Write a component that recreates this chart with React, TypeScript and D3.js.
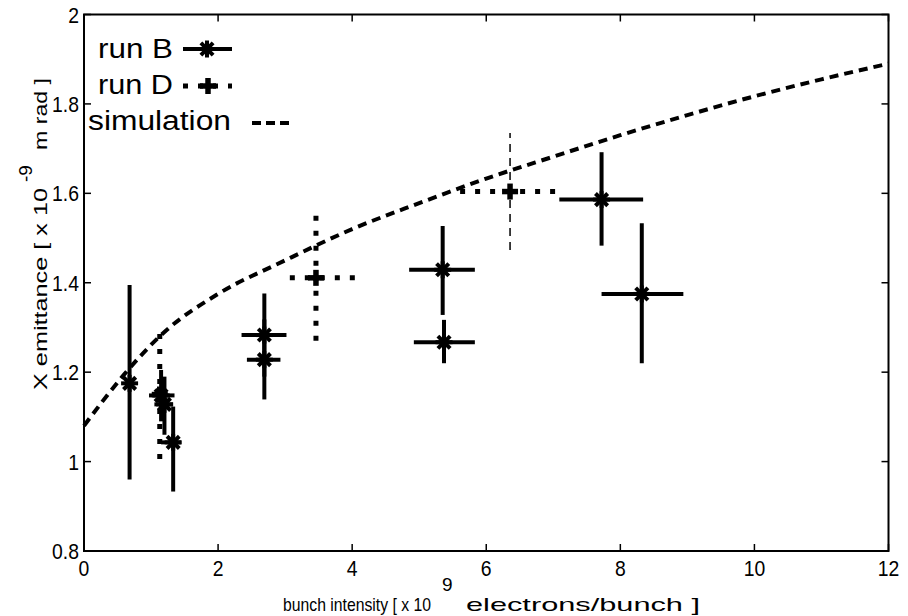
import React from "react";
import * as d3 from "d3";

// ---- data ----
const xTicks = [0, 2, 4, 6, 8, 10, 12];
const yTicks = [0.8, 1, 1.2, 1.4, 1.6, 1.8, 2];
const yTickLabels = ["0.8", "1", "1.2", "1.4", "1.6", "1.8", "2"];

// run B : x, y, xlow, xhigh, ylow, yhigh
const runBx = [0.68, 1.15, 1.2, 1.33, 2.69, 2.69, 5.35, 5.37, 7.72, 8.32];
const runBy = [1.175, 1.148, 1.128, 1.043, 1.283, 1.228, 1.429, 1.267, 1.586, 1.375];
const runBxlo = [0.68, 0.97, 1.05, 1.15, 2.35, 2.43, 4.85, 4.92, 7.09, 7.72];
const runBxhi = [0.68, 1.35, 1.33, 1.45, 3.02, 2.93, 5.83, 5.83, 8.34, 8.94];
const runBylo = [0.96, 1.09, 1.06, 0.933, 1.19, 1.139, 1.328, 1.22, 1.483, 1.22];
const runByhi = [1.395, 1.205, 1.19, 1.123, 1.376, 1.318, 1.527, 1.317, 1.692, 1.533];

// run D
const runDx = [1.13, 3.46, 6.355];
const runDy = [1.15, 1.411, 1.604];
const runDxlo = [1.1, 3.07, 5.61];
const runDxhi = [1.16, 4.14, 7.13];
const runDylo = [1.006, 1.27, 1.473];
const runDyhi = [1.3, 1.555, 1.735];

// simulation curve
const simX = [0, 0.6, 1.2, 2, 3, 4, 5, 6, 7, 8, 9, 10, 11, 12];
const simY = [1.08, 1.195, 1.29, 1.375, 1.45, 1.52, 1.578, 1.633, 1.682, 1.73, 1.775, 1.817, 1.855, 1.89];

const FONT = "'Liberation Sans', Arial, Helvetica, sans-serif";

const L = 84, R = 888.5, T = 14.5, B = 551;

function Asterisk({ cx, cy, s = 8.5 }: { cx: number; cy: number; s?: number }) {
  const d = s * 0.72;
  return (
    <g stroke="#000" strokeWidth={4} strokeLinecap="butt">
      <line x1={cx - s} y1={cy} x2={cx + s} y2={cy} />
      <line x1={cx} y1={cy - s} x2={cx} y2={cy + s} />
      <line x1={cx - d} y1={cy - d} x2={cx + d} y2={cy + d} />
      <line x1={cx - d} y1={cy + d} x2={cx + d} y2={cy - d} />
    </g>
  );
}

function Plus({ cx, cy, s = 8 }: { cx: number; cy: number; s?: number }) {
  return (
    <g stroke="#000" strokeWidth={5.5}>
      <line x1={cx - s} y1={cy} x2={cx + s} y2={cy} />
      <line x1={cx} y1={cy - s} x2={cx} y2={cy + s} />
    </g>
  );
}

function Txt({
  x,
  y,
  size,
  sx = 0.88,
  anchor = "start",
  children,
}: {
  x: number;
  y: number;
  size: number;
  sx?: number;
  anchor?: string;
  children: React.ReactNode;
}) {
  return (
    <g transform={`translate(${x},${y}) scale(${sx},1)`}>
      <text x={0} y={0} fontSize={size} textAnchor={anchor} fill="#000">
        {children}
      </text>
    </g>
  );
}

export default function App() {
  const x = d3.scaleLinear().domain([0, 12]).range([L, R]);
  const y = d3.scaleLinear().domain([0.8, 2]).range([B, T]);

  const simLine = d3
    .line<number>()
    .x((_, i) => x(simX[i]))
    .y((d) => y(d))
    .curve(d3.curveMonotoneX)(simY) as string;

  const tickLen = 7;

  return (
    <svg
      width={908}
      height={616}
      style={{ position: "absolute", left: 0, top: 0, background: "#fff" }}
      fontFamily={FONT}
    >
      <rect x={0} y={0} width={908} height={616} fill="#fff" />
      {/* simulation */}
      <path d={simLine} fill="none" stroke="#000" strokeWidth={4} strokeDasharray="9,6" />

      {/* run D */}
      {runDx.map((v, i) => (
        <g key={"d" + i}>
          <line
            x1={x(runDxlo[i])}
            x2={x(runDxhi[i])}
            y1={y(runDy[i])}
            y2={y(runDy[i])}
            stroke="#000"
            strokeWidth={5}
            strokeDasharray="5,10"
          />
          <line
            x1={x(v)}
            x2={x(v)}
            y1={y(runDylo[i])}
            y2={y(runDyhi[i])}
            stroke="#000"
            strokeWidth={i === 2 ? 1.5 : 5}
            strokeDasharray={i === 2 ? "8,6" : "5,10"}
          />
          <Plus cx={x(v)} cy={y(runDy[i])} />
        </g>
      ))}

      {/* run B */}
      {runBx.map((v, i) => (
        <g key={"b" + i}>
          <line
            x1={x(runBxlo[i])}
            x2={x(runBxhi[i])}
            y1={y(runBy[i])}
            y2={y(runBy[i])}
            stroke="#000"
            strokeWidth={4}
          />
          <line
            x1={x(v)}
            x2={x(v)}
            y1={y(runBylo[i])}
            y2={y(runByhi[i])}
            stroke="#000"
            strokeWidth={4}
          />
          <Asterisk cx={x(v)} cy={y(runBy[i])} />
        </g>
      ))}

      {/* frame */}
      <rect x={L} y={T} width={R - L} height={B - T} fill="none" stroke="#000" strokeWidth={2} />

      {/* ticks */}
      {xTicks.map((t) => (
        <g key={"xt" + t}>
          <line x1={x(t)} x2={x(t)} y1={B} y2={B - tickLen} stroke="#000" strokeWidth={1.5} />
          <line x1={x(t)} x2={x(t)} y1={T} y2={T + tickLen} stroke="#000" strokeWidth={1.5} />
          <Txt x={x(t)} y={576} size={22} anchor="middle">
            {t}
          </Txt>
        </g>
      ))}
      {yTicks.map((t, i) => (
        <g key={"yt" + t}>
          <line x1={L} x2={L + tickLen} y1={y(t)} y2={y(t)} stroke="#000" strokeWidth={1.5} />
          <line x1={R} x2={R - tickLen} y1={y(t)} y2={y(t)} stroke="#000" strokeWidth={1.5} />
          <Txt x={79} y={y(t) + 8} size={22} anchor="end">
            {yTickLabels[i]}
          </Txt>
        </g>
      ))}

      {/* x label */}
      <text x={283} y={611} fontSize={19} fill="#000" textLength={148} lengthAdjust="spacingAndGlyphs">
        bunch intensity [ x 10
      </text>
      <text x={442} y={591} fontSize={19} fill="#000">
        9
      </text>
      <text x={466} y={611} fontSize={19} fill="#000" textLength={234} lengthAdjust="spacingAndGlyphs">
        electrons/bunch ]
      </text>

      {/* y label */}
      <g transform="translate(47,390) rotate(-90)">
        <text x={0} y={0} fontSize={19} fill="#000" textLength={202} lengthAdjust="spacingAndGlyphs">
          X emittance [ x 10
        </text>
        <text x={208} y={-15} fontSize={19} fill="#000">
          -9
        </text>
        <text x={240} y={0} fontSize={19} fill="#000" textLength={72} lengthAdjust="spacingAndGlyphs">
          m rad ]
        </text>
      </g>

      {/* legend */}
      <text x={98} y={58} fontSize={27} fill="#000" textLength={75} lengthAdjust="spacingAndGlyphs">
        run B
      </text>
      <line x1={183} x2={232} y1={49} y2={49} stroke="#000" strokeWidth={4} />
      <Asterisk cx={207} cy={49} />

      <text x={98} y={94} fontSize={27} fill="#000" textLength={75} lengthAdjust="spacingAndGlyphs">
        run D
      </text>
      <line x1={183} x2={232} y1={86} y2={86} stroke="#000" strokeWidth={5} strokeDasharray="5,10" />
      <Plus cx={208} cy={86} />

      <text x={88} y={130} fontSize={27} fill="#000" textLength={143} lengthAdjust="spacingAndGlyphs">
        simulation
      </text>
      <line x1={252} x2={290} y1={123} y2={123} stroke="#000" strokeWidth={4} strokeDasharray="9,5" />
    </svg>
  );
}
